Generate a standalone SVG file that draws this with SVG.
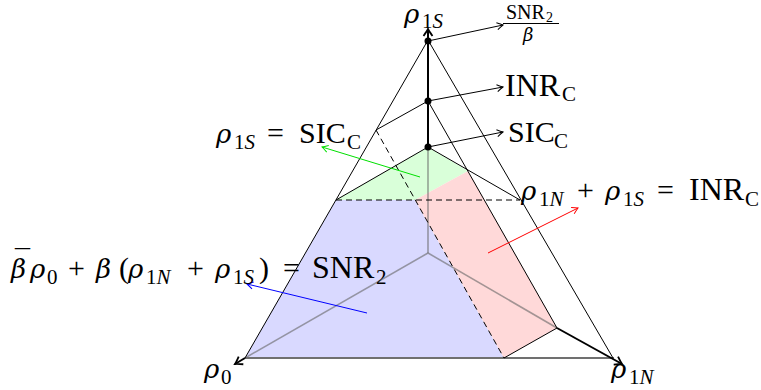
<svg xmlns="http://www.w3.org/2000/svg" width="761" height="390" viewBox="0 0 761 390">
<defs>
<style>
.t{font-family:"Liberation Serif","Times New Roman",serif;font-size:30px;fill:#000}
.i{font-style:italic}
.g{font-family:"DejaVu Serif",serif;font-style:italic;font-size:26px}
.s{font-size:21px}
.thin{stroke:#000;stroke-width:1;fill:none}
.thick{stroke:#000;stroke-width:2;fill:none}
.dash{stroke:#000;stroke-width:1;fill:none;stroke-dasharray:6 4}
.hid{stroke:#666;stroke-opacity:0.6;stroke-width:1.6;fill:none}
</style>
<marker id="ak" viewBox="-8 -5 10 10" markerWidth="10" markerHeight="10" markerUnits="userSpaceOnUse" orient="auto" refX="0" refY="0"><path d="M-6,-3.5 Q-2,-1 0,0 Q-2,1 -6,3.5" fill="none" stroke="#000" stroke-width="1"/></marker>
<marker id="akb" viewBox="-10 -6 12 12" markerWidth="12" markerHeight="12" markerUnits="userSpaceOnUse" orient="auto" refX="0" refY="0"><path d="M-7,-4.5 Q-2,-1 0,0 Q-2,1 -7,4.5" fill="none" stroke="#000" stroke-width="1.8"/></marker>
<marker id="ag" viewBox="-8 -5 10 10" markerWidth="10" markerHeight="10" markerUnits="userSpaceOnUse" orient="auto" refX="0" refY="0"><path d="M-6,-3.5 Q-2,-1 0,0 Q-2,1 -6,3.5" fill="none" stroke="#00e000" stroke-width="1"/></marker>
<marker id="ar" viewBox="-8 -5 10 10" markerWidth="10" markerHeight="10" markerUnits="userSpaceOnUse" orient="auto" refX="0" refY="0"><path d="M-6,-3.5 Q-2,-1 0,0 Q-2,1 -6,3.5" fill="none" stroke="#ff0000" stroke-width="1"/></marker>
<marker id="ab" viewBox="-8 -5 10 10" markerWidth="10" markerHeight="10" markerUnits="userSpaceOnUse" orient="auto" refX="0" refY="0"><path d="M-6,-3.5 Q-2,-1 0,0 Q-2,1 -6,3.5" fill="none" stroke="#0000ff" stroke-width="1"/></marker>
</defs>
<rect width="761" height="390" fill="#fff"/>

<g id="regions">
<polygon id="snr-region" points="336,200 415,200 504,358 245,358" fill="#d9d9ff"/>
<polygon id="sic-region" points="428,147 336,200 415,200 468,171" fill="#d9ffd9"/>
<polygon id="inr-region" points="415,200 468,171 557,328 504,358" fill="#ffd9d9"/>
</g>

<g id="hidden-axes">
<line class="hid" x1="428" y1="253" x2="245" y2="358"/>
<line class="hid" x1="428" y1="253" x2="557" y2="328"/>
<line class="hid" x1="428" y1="253" x2="428" y2="147"/>
<line x1="245" y1="358" x2="614" y2="358" stroke="#707070" stroke-width="1.8"/>
</g>

<g id="edges">
<line class="thin" x1="428" y1="40" x2="245" y2="358"/>
<line class="thin" x1="428" y1="40" x2="613" y2="358"/>
<line class="thin" x1="428" y1="101" x2="557" y2="328"/>
<line class="thin" x1="428" y1="101" x2="376" y2="130"/>
<line class="dash" x1="376" y1="130" x2="504" y2="358"/>
<line class="thin" x1="504" y1="358" x2="557" y2="328"/>
<line class="thin" x1="428" y1="147" x2="336" y2="200"/>
<line class="thin" x1="428" y1="147" x2="520" y2="200"/>
<line class="dash" x1="336" y1="200" x2="520" y2="200"/>
</g>

<g id="axes">
<line class="thick" x1="428" y1="147" x2="428" y2="29" marker-end="url(#akb)"/>
<line class="thick" x1="557" y1="328" x2="622" y2="364" marker-end="url(#akb)"/>
<line class="thick" x1="245" y1="358" x2="235" y2="364" marker-end="url(#akb)"/>
</g>

<g id="connectors">
<line class="thin" x1="428" y1="41" x2="503" y2="25" marker-end="url(#ak)"/>
<line class="thin" x1="428" y1="101" x2="503" y2="87" marker-end="url(#ak)"/>
<line class="thin" x1="428" y1="147" x2="503" y2="132" marker-end="url(#ak)"/>
<line x1="420" y1="177" x2="322" y2="147" stroke="#00e000" stroke-width="1" marker-end="url(#ag)"/>
<line x1="488" y1="253" x2="578" y2="208" stroke="#ff0000" stroke-width="1" marker-end="url(#ar)"/>
<line x1="367" y1="313" x2="247" y2="284" stroke="#0000ff" stroke-width="1" marker-end="url(#ab)"/>
</g>

<g id="points">
<circle cx="428" cy="41" r="3.5" fill="#000"/>
<circle cx="428" cy="101" r="3.5" fill="#000"/>
<circle cx="428" cy="147" r="3.5" fill="#000"/>
</g>

<g id="labels">
<text class="t"><tspan class="g" x="404" y="23">ρ</tspan><tspan class="s" x="422" y="28">1</tspan><tspan class="s i">S</tspan></text>

<g id="snr-beta">
<text class="t" style="font-size:20px"><tspan x="506" y="19">SNR</tspan><tspan style="font-size:14px" x="546" y="22">2</tspan></text>
<line x1="503" y1="23.5" x2="559" y2="23.5" stroke="#000" stroke-width="1"/>
<text class="t g" style="font-size:18px" x="523" y="41">β</text>
</g>

<text class="t"><tspan x="505" y="96" style="font-size:32px">INR</tspan><tspan class="s" x="562" y="101">C</tspan></text>
<text class="t"><tspan x="508" y="142">SIC</tspan><tspan class="s" x="554" y="148">C</tspan></text>

<text class="t"><tspan class="g" x="216" y="143">ρ</tspan><tspan class="s" x="234" y="149">1</tspan><tspan class="s i">S</tspan><tspan x="267" y="143">=</tspan><tspan x="299" y="143">SIC</tspan><tspan class="s" x="347" y="149">C</tspan></text>

<text class="t"><tspan class="g" x="521" y="200">ρ</tspan><tspan class="s" x="539" y="206">1</tspan><tspan class="s i">N</tspan><tspan x="577" y="200">+</tspan><tspan class="g" x="605" y="200">ρ</tspan><tspan class="s" x="623" y="206">1</tspan><tspan class="s i">S</tspan><tspan x="657" y="200">=</tspan><tspan x="689" y="200" style="font-size:32px">INR</tspan><tspan class="s" x="745" y="206">C</tspan></text>

<text class="t"><tspan class="g" x="11" y="278">β</tspan><tspan x="15" y="270">¯</tspan><tspan class="g" x="30" y="278">ρ</tspan><tspan class="s" x="47" y="284">0</tspan><tspan x="68" y="278">+</tspan><tspan class="g" x="96" y="278">β</tspan><tspan x="119" y="278">(</tspan><tspan class="g" x="128" y="278">ρ</tspan><tspan class="s" x="146" y="284">1</tspan><tspan class="s i">N</tspan><tspan x="187" y="278">+</tspan><tspan class="g" x="215" y="278">ρ</tspan><tspan class="s" x="233" y="284">1</tspan><tspan class="s i">S</tspan><tspan x="259" y="278">)</tspan><tspan x="283" y="278">=</tspan><tspan x="312" y="278" style="font-size:32px">SNR</tspan><tspan class="s" x="376" y="284">2</tspan></text>

<text class="t"><tspan class="g" x="204" y="378">ρ</tspan><tspan class="s" x="221" y="384">0</tspan></text>
<text class="t"><tspan class="g" x="611" y="378">ρ</tspan><tspan class="s" x="629" y="384">1</tspan><tspan class="s i">N</tspan></text>
</g>
</svg>
